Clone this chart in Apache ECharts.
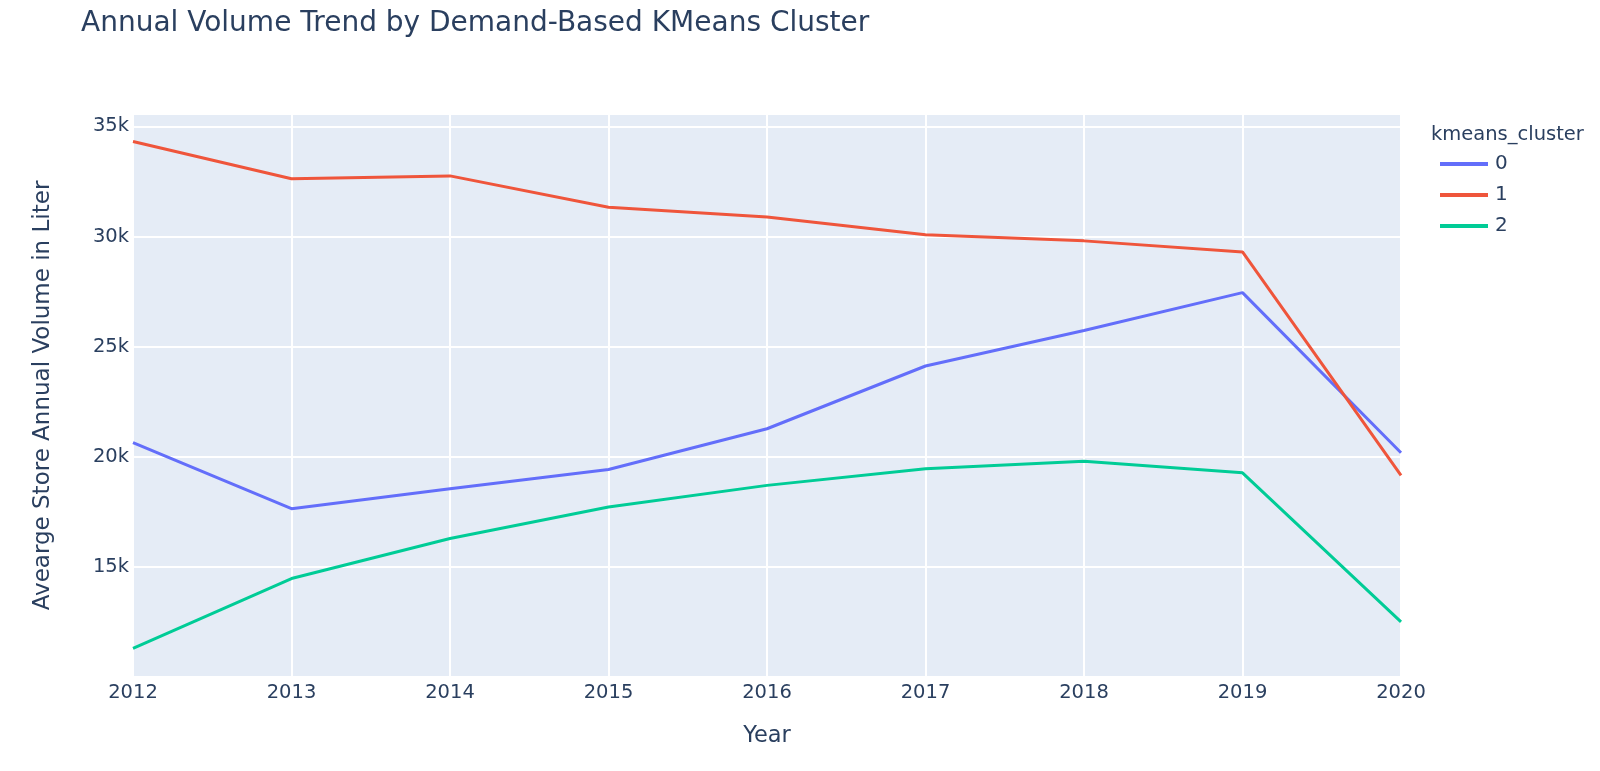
<!DOCTYPE html>
<html>
<head>
<meta charset="utf-8">
<script src="https://cdn.jsdelivr.net/npm/echarts@6/dist/echarts.min.js"></script>
<style>
html,body{margin:0;padding:0;background:#fff;}
#chart{width:1600px;height:771px;}
</style>
</head>
<body>
<div id="chart"></div>
<script>
const years = ['2012','2013','2014','2015','2016','2017','2018','2019','2020'];
const cluster0 = [20640, 17640, 18550, 19420, 21270, 24120, 25730, 27450, 20180];
const cluster1 = [34310, 32620, 32750, 31330, 30880, 30080, 29800, 29300, 19150];
const cluster2 = [11300, 14470, 16290, 17720, 18700, 19450, 19790, 19270, 12500];
const seriesNames = ['0', '1', '2'];
const colors = ['#636efa', '#EF553B', '#00cc96'];

const FONT = '"DejaVu Sans", Verdana, Arial, sans-serif';
const TXT = '#2a3f5f';

const chart = echarts.init(document.getElementById('chart'), null, {renderer: 'canvas'});
const dataSets = [cluster0, cluster1, cluster2];

chart.setOption({
  animation: false,
  backgroundColor: '#ffffff',
  textStyle: {fontFamily: FONT, color: TXT},
  title: [
    {text: 'Annual Volume Trend by Demand-Based KMeans Cluster', left: 76, top: 5,
     textStyle: {fontFamily: FONT, fontSize: 28, fontWeight: 'normal', color: TXT}},
    {text: 'kmeans_cluster', left: 1426, top: 120,
     textStyle: {fontFamily: FONT, fontSize: 19.5, fontWeight: 'normal', color: TXT}}
  ],
  legend: {
    orient: 'vertical',
    left: 1435,
    top: 149,
    itemWidth: 48,
    itemHeight: 4,
    itemGap: 11,
    icon: 'rect',
    textStyle: {fontFamily: FONT, fontSize: 20, color: TXT, padding: [0,0,0,2]},
    data: seriesNames
  },
  grid: {left: 133, right: 199, top: 114, bottom: 94, show: true, backgroundColor: '#E5ECF6', borderWidth: 0},
  xAxis: {
    type: 'category',
    data: years,
    boundaryGap: false,
    name: 'Year',
    nameLocation: 'middle',
    nameGap: 48,
    nameTextStyle: {fontFamily: FONT, fontSize: 22.5, color: TXT},
    axisLine: {show: false},
    axisTick: {show: false},
    axisLabel: {fontFamily: FONT, fontSize: 19.5, color: TXT, margin: 6},
    splitLine: {show: true, lineStyle: {color: '#ffffff', width: 2}}
  },
  yAxis: {
    type: 'value',
    min: 10000,
    max: 35560,
    interval: 5000,
    name: 'Avearge Store Annual Volume in Liter',
    nameLocation: 'middle',
    nameGap: 78,
    nameTextStyle: {fontFamily: FONT, fontSize: 23, color: TXT},
    axisLine: {show: false},
    axisTick: {show: false},
    axisLabel: {fontFamily: FONT, fontSize: 19.5, color: TXT, margin: 4, showMinLabel: false, showMaxLabel: false,
      formatter: v => (v/1000) + 'k'},
    splitLine: {show: true, lineStyle: {color: '#ffffff', width: 2}}
  },
  series: dataSets.map((d, i) => ({
    name: seriesNames[i],
    type: 'line',
    data: d,
    symbol: 'none',
    color: colors[i],
    lineStyle: {width: 3, color: colors[i]},
    z: 3
  }))
});
</script>
</body>
</html>
